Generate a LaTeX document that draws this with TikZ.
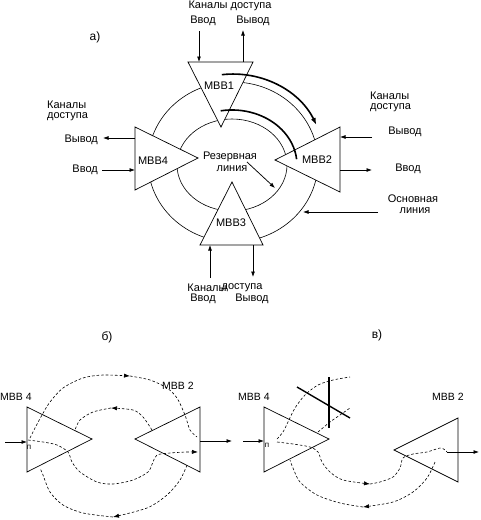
\documentclass[tikz,border=0pt]{standalone}
\usepackage{fontspec}
\setmainfont{Liberation Sans}
\usetikzlibrary{arrows.meta}
\begin{document}
\begin{tikzpicture}[x=1pt,y=-1pt,
  tri/.style={draw, fill=white, line width=0.7pt},
  thinln/.style={line width=0.6pt},
  sarr/.style={line width=0.75pt, -{Latex[length=5.5pt,width=4pt]}},
  bigarr/.style={line width=1.6pt, -{Latex[length=7pt,width=5pt]}},
  bigln/.style={line width=1.6pt},
  dsh/.style={line width=0.6pt, dash pattern=on 2.6pt off 2pt},
  dsharr/.style={dsh, -{Latex[length=6pt,width=4.2pt]}},
  txt/.style={font=\fontsize{11}{12}\selectfont, inner sep=0pt},
  stxt/.style={font=\fontsize{10.5}{12}\selectfont, inner sep=0pt},
  htxt/.style={font=\fontsize{12}{13}\selectfont, inner sep=0pt},
  tiny/.style={font=\fontsize{8}{9}\selectfont, inner sep=0pt}]
\useasboundingbox (0,0) rectangle (480,520);
\fill[white] (0,0) rectangle (480,520);

%% ---------- part a ----------
\node[htxt] (la) at (95,37) {а)};
\coordinate (oc) at (233,162);
\coordinate (ic) at (232,165);
\draw[thinln] (oc) ellipse [x radius=85pt, y radius=80pt];
\draw[thinln] (ic) ellipse [x radius=55pt, y radius=46pt];

% triangles
\coordinate (t1a) at (188,62); \coordinate (t1b) at (253,62); \coordinate (t1c) at (221,127);
\coordinate (t4a) at (135,127); \coordinate (t4b) at (135,190); \coordinate (t4c) at (198,158);
\coordinate (t2a) at (340,127); \coordinate (t2b) at (340,192); \coordinate (t2c) at (275,160);
\coordinate (t3a) at (200,245); \coordinate (t3b) at (263,245); \coordinate (t3c) at (232,182);
\draw[tri] (t1a) -- (t1b) -- (t1c) -- cycle;
\draw[tri] (t4a) -- (t4b) -- (t4c) -- cycle;
\draw[tri] (t2a) -- (t2b) -- (t2c) -- cycle;
\draw[tri] (t3a) -- (t3b) -- (t3c) -- cycle;
\node[txt] (m1) at (219,86) {МВВ1};
\node[txt] (m4) at (153,161) {МВВ4};
\node[txt] (m2) at (317,160) {МВВ2};
\node[txt] (m3) at (231,223) {МВВ3};

% thick arcs
\coordinate (ta1) at (221.8,74.7);
\draw[bigarr] (ta1) arc[start angle=97, end angle=25, x radius=92pt, y radius=88pt];
\coordinate (ta2) at (220.7,110.8);
\draw[bigln] (ta2) arc[start angle=100, end angle=6, x radius=65pt, y radius=55pt];

% MBB1 channels
\node[txt] (k1) at (230,6) {Каналы доступа};
\node[txt] (v1i) at (203,21) {Ввод};
\node[txt] (v1o) at (253,21) {Вывод};
\coordinate (i1s) at (199,31); \coordinate (i1e) at (199,62);
\coordinate (o1s) at (243,62); \coordinate (o1e) at (243,30);
\draw[sarr] (i1s) -- (i1e);
\draw[sarr] (o1s) -- (o1e);

% MBB4 channels
\node[txt, anchor=west] (k4a) at (47,105) {Каналы};
\node[txt, anchor=west] (k4b) at (47,117) {доступа};
\node[txt, anchor=east] (v4o) at (98,140) {Вывод};
\node[txt, anchor=east] (v4i) at (98,170) {Ввод};
\coordinate (o4s) at (135,138); \coordinate (o4e) at (103,138);
\coordinate (i4s) at (102,170); \coordinate (i4e) at (135,170);
\draw[sarr] (o4s) -- (o4e);
\draw[sarr] (i4s) -- (i4e);

% MBB2 channels
\node[txt, anchor=west] (k2a) at (370,96) {Каналы};
\node[txt, anchor=west] (k2b) at (370,108) {доступа};
\node[txt] (v2o) at (405,132) {Вывод};
\node[txt] (v2i) at (408,169) {Ввод};
\coordinate (o2s) at (372,137); \coordinate (o2e) at (340,137);
\coordinate (i2s) at (340,170); \coordinate (i2e) at (372,170);
\draw[sarr] (o2s) -- (o2e);
\draw[sarr] (i2s) -- (i2e);
\node[txt] (os1) at (413,199) {Основная};
\node[txt] (os2) at (415,211) {линия};
\coordinate (osa) at (378,212); \coordinate (ose) at (303,212);
\draw[sarr] (osa) -- (ose);

% MBB3 channels
\node[txt] (k3a) at (207,288) {Каналы};
\node[txt] (k3b) at (242,288) {доступа};
\node[txt] (v3i) at (203,299) {Ввод};
\node[txt] (v3o) at (252,299) {Вывод};
\coordinate (i3s) at (210,278); \coordinate (i3e) at (210,245);
\coordinate (o3s) at (253,245); \coordinate (o3e) at (253,277);
\draw[sarr] (i3s) -- (i3e);
\draw[sarr] (o3s) -- (o3e);

% reserve line label
\node[txt] (r1) at (230,157) {Резервная};
\node[txt] (r2) at (232,169) {линия};
\coordinate (ra) at (247,162); \coordinate (re) at (275,188);
\draw[sarr] (ra) -- (re);

%% ---------- part b ----------
\node[htxt] (lb) at (107,337) {б)};
\coordinate (b4a) at (27,407); \coordinate (b4b) at (27,472); \coordinate (b4c) at (92,439);
\coordinate (b2a) at (200,407); \coordinate (b2b) at (200,472); \coordinate (b2c) at (135,439);
\draw[tri] (b4a) -- (b4b) -- (b4c) -- cycle;
\draw[tri] (b2a) -- (b2b) -- (b2c) -- cycle;
\node[stxt, anchor=west] (bm4) at (0,397) {МВВ 4};
\node[stxt] (bm2) at (178,386) {МВВ 2};
\node[tiny] (bn) at (29,447) {п};
\coordinate (bis) at (5,442); \coordinate (bie) at (27,442);
\draw[sarr] (bis) -- (bie);
\coordinate (bos) at (200,441); \coordinate (boe) at (232,441);
\draw[sarr] (bos) -- (boe);
% outer top
\draw[dsharr] plot[smooth] coordinates {(30,438) (35,428) (42,415) (50,402) (63,388) (83,378) (103,375) (130,376)};
\draw[dsh] plot[smooth] coordinates {(130,376) (150,380) (167,388) (177,398) (185,415) (190,430) (197,437)};
% inner top
\draw[dsharr] plot[smooth] coordinates {(152,430) (143,417) (133,410) (111,408)};
\draw[dsh] plot[smooth] coordinates {(111,408) (93,412) (80,420) (75,430)};
% inner bottom
\draw[dsharr] plot[smooth] coordinates {(28,440) (43,442) (57,445) (68,452) (72,462) (80,472) (97,482) (113,484) (133,480) (148,472) (153,462) (157,455) (170,453) (187,452) (198,452)};
% outer bottom
\draw[dsharr] plot[smooth] coordinates {(187,465) (180,480) (167,495) (147,508) (113,517)};
\draw[dsh] plot[smooth] coordinates {(113,517) (83,513) (63,505) (50,492) (43,475) (40,468)};

%% ---------- part c ----------
\node[htxt] (lc) at (377,335) {в)};
\coordinate (c4a) at (264,407); \coordinate (c4b) at (264,472); \coordinate (c4c) at (329,439);
\coordinate (c2a) at (458,418); \coordinate (c2b) at (458,482); \coordinate (c2c) at (394,450);
\draw[tri] (c4a) -- (c4b) -- (c4c) -- cycle;
\draw[tri] (c2a) -- (c2b) -- (c2c) -- cycle;
\node[stxt] (cm4) at (254,397) {МВВ 4};
\node[stxt] (cm2) at (448,397) {МВВ 2};
\node[tiny] (cn) at (267,445) {п};
\coordinate (cis) at (243,441); \coordinate (cie) at (264,441);
\draw[sarr] (cis) -- (cie);
\coordinate (cos) at (447,452); \coordinate (coe) at (479,452);
\draw[sarr] (cos) -- (coe);
% outer top (broken)
\draw[dsh] plot[smooth] coordinates {(277,439) (283,432) (288,422) (295,408) (305,395) (318,385) (333,380) (350,377)};
% inner top (broken)
\draw[dsh] plot[smooth] coordinates {(318,432) (330,422) (340,415) (350,408)};
% break marks
\coordinate (bv1) at (329,377); \coordinate (bv2) at (329,428);
\coordinate (bd1) at (297,387); \coordinate (bd2) at (350,418);
\draw[line width=1.4pt] (bv1) -- (bv2);
\draw[line width=1.4pt] (bd1) -- (bd2);
% inner bottom
\draw[dsharr] plot[smooth] coordinates {(277,442) (293,444) (310,447) (318,452) (322,462) (330,472) (343,480) (370,484)};
\draw[dsh] plot[smooth] coordinates {(370,484) (380,482) (393,477) (400,468) (403,458) (413,454) (427,452) (440,448) (445,450) (447,452)};
% outer bottom
\draw[dsharr] plot[smooth] coordinates {(435,462) (427,478) (413,492) (393,502) (363,507)};
\draw[dsh] plot[smooth] coordinates {(363,507) (340,503) (317,495) (300,482) (293,468) (290,460)};
\end{tikzpicture}
\end{document}
